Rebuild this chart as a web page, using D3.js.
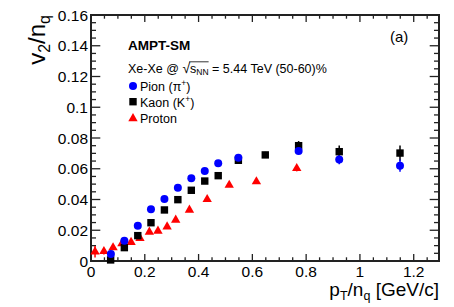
<!DOCTYPE html>
<html>
<head>
<meta charset="utf-8">
<script src="https://cdn.jsdelivr.net/npm/d3@7"></script>
<style>
  body { margin: 0; background: #fff; }
  text { font-family: "Liberation Sans", Arial, sans-serif; }
</style>
</head>
<body>
<svg id="chart" width="454" height="307"></svg>
<script>
// values
var pionX = [0.074, 0.124, 0.174, 0.223, 0.273, 0.323, 0.373, 0.423, 0.473, 0.548, 0.772, 0.923, 1.149];
var pionY = [0.0046, 0.0132, 0.0230, 0.0336, 0.0403, 0.0477, 0.0538, 0.0585, 0.0635, 0.0672, 0.0715, 0.0660, 0.0620];
var pionErr = [0.001, 0.001, 0.001, 0.001, 0.001, 0.001, 0.001, 0.001, 0.001, 0.001, 0.002, 0.003, 0.004];

var kaonX = [0.073, 0.124, 0.174, 0.223, 0.273, 0.323, 0.373, 0.423, 0.473, 0.548, 0.648, 0.772, 0.923, 1.149];
var kaonY = [0.0007, 0.0087, 0.0165, 0.0249, 0.0332, 0.0399, 0.0460, 0.0520, 0.0555, 0.0655, 0.0690, 0.0750, 0.0711, 0.0702];
var kaonErr = [0.001, 0.001, 0.001, 0.001, 0.001, 0.001, 0.001, 0.001, 0.001, 0.001, 0.002, 0.003, 0.004, 0.005];

var protonX = [0.015, 0.048, 0.082, 0.115, 0.149, 0.182, 0.217, 0.249, 0.283, 0.315, 0.366, 0.432, 0.514, 0.615, 0.765];
var protonY = [0.0060, 0.0063, 0.0087, 0.0113, 0.0122, 0.0148, 0.0189, 0.0195, 0.0223, 0.0267, 0.0332, 0.0401, 0.0494, 0.0516, 0.0603];
var protonErr = [0.0038, 0.002, 0.001, 0.001, 0.001, 0.001, 0.001, 0.001, 0.001, 0.001, 0.001, 0.001, 0.001, 0.001, 0.002];

var xTicks = [0, 0.2, 0.4, 0.6, 0.8, 1, 1.2];
var yTicks = [0, 0.02, 0.04, 0.06, 0.08, 0.1, 0.12, 0.14, 0.16];

var svg = d3.select("#chart"),
    margin = {top: 15, right: 15, bottom: 46, left: 91},
    width = +svg.attr("width") - margin.left - margin.right,
    height = +svg.attr("height") - margin.top - margin.bottom;

var x = d3.scaleLinear().domain([0, 1.294]).range([margin.left, margin.left + width]);
var y = d3.scaleLinear().domain([0, 0.16]).range([margin.top + height, margin.top]);

var x0 = margin.left, x1 = margin.left + width, y0 = margin.top + height, y1 = margin.top;

// ROOT style axes: ticks point inwards, on all four sides
var xMinor = d3.range(0, 1.29, 0.05);
var yMinor = d3.range(0, 0.1601, 0.005);

var ticks = svg.append("g").attr("stroke", "#222").attr("stroke-width", 1.3);
xMinor.forEach(function(v) {
    var major = xTicks.some(function(t) { return Math.abs(t - v) < 1e-6; });
    var len = major ? 7 : 3.7;
    ticks.append("line").attr("x1", x(v)).attr("x2", x(v)).attr("y1", y0).attr("y2", y0 - len);
    ticks.append("line").attr("x1", x(v)).attr("x2", x(v)).attr("y1", y1).attr("y2", y1 + len);
});
yMinor.forEach(function(v) {
    var major = yTicks.some(function(t) { return Math.abs(t - v) < 1e-6; });
    var len = major ? 9.3 : 5;
    ticks.append("line").attr("x1", x0).attr("x2", x0 + len).attr("y1", y(v)).attr("y2", y(v));
    ticks.append("line").attr("x1", x1).attr("x2", x1 - len).attr("y1", y(v)).attr("y2", y(v));
});

svg.append("rect")
    .attr("x", x0).attr("y", y1)
    .attr("width", width).attr("height", height)
    .attr("fill", "none")
    .attr("stroke", "#222")
    .attr("stroke-width", 2);

svg.append("g")
    .attr("font-size", 15.5)
    .attr("text-anchor", "middle")
    .selectAll("text")
    .data(xTicks)
    .enter().append("text")
    .attr("x", function(d) { return x(d); })
    .attr("y", y0 + 16)
    .text(function(d) { return d; });

svg.append("g")
    .attr("font-size", 15.5)
    .attr("text-anchor", "end")
    .selectAll("text")
    .data(yTicks)
    .enter().append("text")
    .attr("x", x0 - 3)
    .attr("y", function(d) { return y(d) + 5.5; })
    .text(function(d) { return d; });

// axis titles
var yl = svg.append("text")
    .attr("transform", "translate(45," + y1 + ") rotate(-90)")
    .attr("text-anchor", "end")
    .attr("font-size", 24);
yl.append("tspan").text("v");
yl.append("tspan").attr("font-size", 16).attr("dy", 5).text("2");
yl.append("tspan").attr("dy", -5).text("/n");
yl.append("tspan").attr("font-size", 16).attr("dy", 5).text("q");

var xl = svg.append("text")
    .attr("x", x1)
    .attr("y", 296)
    .attr("text-anchor", "end")
    .attr("font-size", 19);
xl.append("tspan").text("p");
xl.append("tspan").attr("font-size", 12.5).attr("dy", 4).text("T");
xl.append("tspan").attr("dy", -4).text("/n");
xl.append("tspan").attr("font-size", 12.5).attr("dy", 4).text("q");
xl.append("tspan").attr("dy", -4).text(" [GeV/c]");

// error bars
function errBars(xs, ys, es, color) {
    svg.append("g").attr("stroke", color).attr("stroke-width", 1.5)
        .selectAll("line")
        .data(xs)
        .enter().append("line")
        .attr("x1", function(d) { return x(d); })
        .attr("x2", function(d) { return x(d); })
        .attr("y1", function(d, i) { return y(ys[i] - es[i]); })
        .attr("y2", function(d, i) { return y(ys[i] + es[i]); });
}
errBars(protonX, protonY, protonErr, "#ff0000");
errBars(kaonX, kaonY, kaonErr, "#000");
errBars(pionX, pionY, pionErr, "#0000ff");

var tri = d3.symbol().type(d3.symbolTriangle).size(38);

svg.append("g").selectAll("path")
    .data(protonX)
    .enter().append("path")
    .attr("d", tri)
    .attr("transform", function(d, i) { return "translate(" + x(d) + "," + y(protonY[i]) + ")"; })
    .attr("fill", "#ff0000");

svg.append("g").selectAll("rect")
    .data(kaonX)
    .enter().append("rect")
    .attr("x", function(d) { return x(d) - 3.7; })
    .attr("y", function(d, i) { return y(kaonY[i]) - 3.7; })
    .attr("width", 7.4).attr("height", 7.4)
    .attr("fill", "#000");

svg.append("g").selectAll("circle")
    .data(pionX)
    .enter().append("circle")
    .attr("cx", function(d) { return x(d); })
    .attr("cy", function(d, i) { return y(pionY[i]); })
    .attr("r", 4)
    .attr("fill", "#0000ff");

// labels
svg.append("text").attr("x", 128).attr("y", 50)
    .attr("font-size", 13.5).attr("font-weight", "bold").text("AMPT-SM");

svg.append("text").attr("x", 390).attr("y", 42)
    .attr("font-size", 15).text("(a)");

var sys = svg.append("text").attr("x", 128).attr("y", 73).attr("font-size", 12.5);
sys.append("tspan").text("Xe-Xe @ ");
sys.append("tspan").attr("font-size", 14).text("\u221A");
var sTs = sys.append("tspan").text("s");
sys.append("tspan").attr("font-size", 8.5).attr("dy", 2).text("NN");
var restTs = sys.append("tspan").attr("dy", -2).text(" = 5.44 TeV (50-60)%");

// overline for the root sign
var ext0 = sTs.node().getExtentOfChar(0);
var restStart = restTs.node().getStartPositionOfChar(0).x;
svg.append("line")
    .attr("x1", ext0.x - 1).attr("x2", restStart)
    .attr("y1", 61.8).attr("y2", 61.8)
    .attr("stroke", "#000").attr("stroke-width", 0.8);

var legend = svg.append("g").attr("font-size", 12.5);
legend.append("circle").attr("cx", 133).attr("cy", 86).attr("r", 4).attr("fill", "#0000ff");
var t1 = legend.append("text").attr("x", 140).attr("y", 90.5);
t1.append("tspan").text("Pion (\u03C0");
t1.append("tspan").attr("font-size", 8.5).attr("dy", -4.5).text("+");
t1.append("tspan").attr("dy", 4.5).text(")");

legend.append("rect").attr("x", 129.3).attr("y", 98).attr("width", 7.4).attr("height", 7.4).attr("fill", "#000");
var t2 = legend.append("text").attr("x", 140).attr("y", 106.5);
t2.append("tspan").text("Kaon (K");
t2.append("tspan").attr("font-size", 8.5).attr("dy", -4.5).text("+");
t2.append("tspan").attr("dy", 4.5).text(")");

legend.append("path").attr("d", tri).attr("transform", "translate(133,118.5)").attr("fill", "#ff0000");
legend.append("text").attr("x", 140).attr("y", 122.5).text("Proton");
</script>
</body>
</html>
